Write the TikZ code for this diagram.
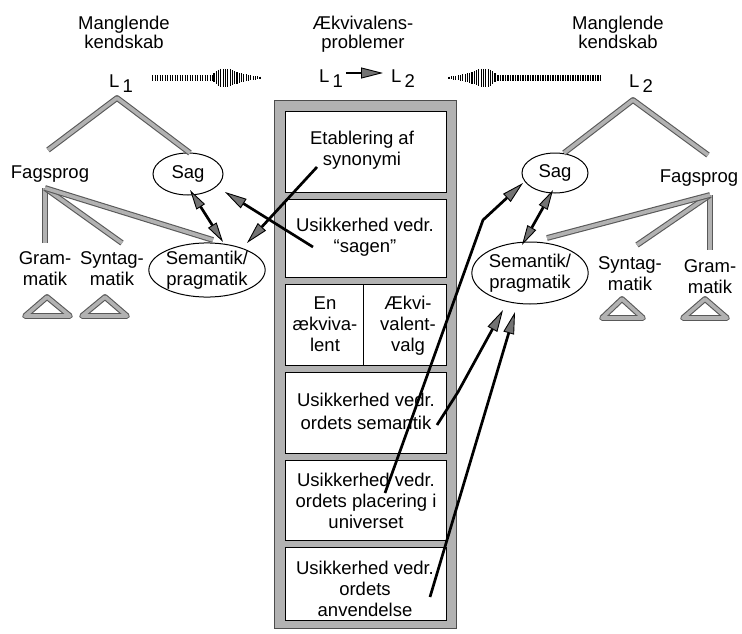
\documentclass[tikz,border=0pt]{standalone}
\usepackage{fontspec}
\setmainfont{Liberation Sans}
\usetikzlibrary{arrows.meta,shapes.geometric}
\newcommand{\mylsub}[1]{L\hspace{3pt}\raisebox{-5pt}{#1}}
\begin{document}
\begin{tikzpicture}[x=1pt,y=-1pt,
  every node/.style={inner sep=0pt, align=center, font=\fontsize{18.5}{21}\selectfont},
  toplbl/.style={font=\fontsize{18.5}{19}\selectfont},
  ell/.style={ellipse, draw, line width=1pt},
  hatch/.style={draw=black!65, double=gray!60, double distance=3.6pt, line width=1.1pt, line join=round},
  arr/.style={line width=2.7pt, -{Triangle[length=22pt,width=11pt,fill=black!55,line width=0.9pt]}},
  darr/.style={line width=2.7pt, {Triangle[length=20pt,width=10pt,fill=black!55,line width=0.9pt]}-{Triangle[length=20pt,width=10pt,fill=black!55,line width=0.9pt]}},
  dense/.style={line width=6pt, dash pattern=on 1.2pt off 1.3pt},
  tick/.style={line width=1.1pt}
]
\useasboundingbox (0,0) rectangle (742,634);

% ---- central column ----
\path[fill=gray!60, draw=black!70, line width=0.6pt] (274,100) rectangle (456,628);
\foreach \a/\b in {111/192, 199/277, 284/365, 372/453, 460/540, 547/620}
  \draw[fill=white, line width=0.8pt] (285,\a) rectangle (446,\b);
\draw[line width=0.8pt] (363,284) -- (363,365);

\node (c1) at (362,150.7) {Etablering af\\synonymi};
\node (c2) at (365,237.7) {Usikkerhed vedr.\\“sagen”};
\node (c3a) at (325,324.3) {En\\ækviva-\\lent};
\node (c3b) at (408,326.2) {Ækvi-\\valent-\\valg};
\node (c4) at (366,411) {Usikkerhed vedr.\\[2pt]ordets semantik};
\node (c5) at (366,501.3) {Usikkerhed vedr.\\ordets placering i\\universet};
\node (c6) at (365,589.3) {Usikkerhed vedr.\\ordets\\anvendelse};

% ---- top labels ----
\node[toplbl] (manL) at (124,32.8) {Manglende\\kendskab};
\node[toplbl] (ekv) at (363,34.7) {Ækvivalens-\\problemer};
\node[toplbl] (manR) at (618,32.8) {Manglende\\kendskab};

\node[anchor=base] (L1) at (121,88) {\mylsub{1}};
\node[anchor=base] (mL1) at (331,83) {\mylsub{1}};
\node[anchor=base] (mL2) at (403,83) {\mylsub{2}};
\node[anchor=base] (L2) at (641,88) {\mylsub{2}};

\coordinate (mid) at (0,73);
\draw[arr, shorten <=3pt, shorten >=8pt] (mL1.east |- mid) -- (mL2.west |- mid);

% dotted arrows
\coordinate (dLa) at (152,78);
\coordinate (dLb) at (214,78);
\draw[dense] (dLa) -- (dLb);
\foreach \x/\h in {214/9, 216.3/13, 218.6/16, 220.9/18, 223.2/18, 225.5/18, 227.8/18, 230.1/17, 232.4/15, 234.7/13, 237/11.5, 239.3/10, 241.6/9, 243.9/8, 246.2/7, 248.5/6, 250.8/5, 253.1/4, 255.4/3.5, 257.7/3, 260/2.5}
  \draw[tick] (\x,{78-\h/2}) -- (\x,{78+\h/2});
\coordinate (dRa) at (601,78);
\coordinate (dRb) at (495,78);
\draw[dense] (dRa) -- (dRb);
\foreach \x/\h in {214/9, 216.3/13, 218.6/16, 220.9/18, 223.2/18, 225.5/18, 227.8/18, 230.1/17, 232.4/15, 234.7/13, 237/11.5, 239.3/10, 241.6/9, 243.9/8, 246.2/7, 248.5/6, 250.8/5, 253.1/4, 255.4/3.5, 257.7/3, 260/2.5}
  \draw[tick] ({709-\x},{78-\h/2}) -- ({709-\x},{78+\h/2});

% ---- left side ----
\node[ell, minimum width=70pt, minimum height=42pt] (sagL) at (188,174) {Sag};
\node[ell, minimum width=110pt, minimum height=48pt] (semL) at (207,270) {Semantik/\\pragmatik};
\node[anchor=base] (fagL) at (50,178) {Fagsprog};
\node (gramL) at (45,268.8) {Gram-\\matik};
\node (syntL) at (112,268.8) {Syntag-\\matik};

\coordinate (apL) at (117,98);
\coordinate (apLl) at (48,150);
\coordinate (sagLt) at (190,153);
\draw[hatch] (apLl) -- (apL) -- (sagLt);
\coordinate (fL) at (45,188);
\coordinate (fLg) at (45,243);
\coordinate (fLs) at (122,243);
\coordinate (fLm) at (213,240);
\draw[hatch] (fL) -- (fLg);
\draw[hatch] (fL) -- (fLs);
\draw[hatch] (fL) -- (fLm);
\draw[hatch] (25,316) -- (47,297) -- (70,316) -- cycle;
\draw[hatch] (82,316) -- (105,297) -- (127,316) -- cycle;

% ---- right side ----
\node[ell, minimum width=66pt, minimum height=40pt] (sagR) at (555,173) {Sag};
\node[ell, minimum width=110pt, minimum height=62pt] (semR) at (530,273) {Semantik/\\pragmatik};
\node[anchor=base] (fagR) at (699,182) {Fagsprog};
\node (syntR) at (630,273.8) {Syntag-\\matik};
\node (gramR) at (710,276.8) {Gram-\\matik};

\coordinate (apR) at (633,100);
\coordinate (sagRt) at (564,153);
\coordinate (apRr) at (708,155);
\draw[hatch] (sagRt) -- (apR) -- (apRr);
\coordinate (fR) at (710,195);
\coordinate (fRg) at (710,250);
\coordinate (fRs) at (637,245);
\coordinate (fRm) at (547,238);
\draw[hatch] (fR) -- (fRg);
\draw[hatch] (fR) -- (fRs);
\draw[hatch] (fR) -- (fRm);
\draw[hatch] (602,318) -- (622,299) -- (643,318) -- cycle;
\draw[hatch] (683,318) -- (705,299) -- (727,318) -- cycle;

% ---- arrows ----
\coordinate (dL1) at (190,190);
\coordinate (dL2) at (223,242);
\draw[darr] (dL1) -- (dL2);
\coordinate (dR1) at (553,190);
\coordinate (dR2) at (522,245);
\draw[darr] (dR1) -- (dR2);

\coordinate (s1) at (317,167);
\coordinate (t1) at (247,243);
\draw[arr] (s1) -- (t1);
\coordinate (s2) at (313,247);
\coordinate (t2) at (225,192);
\draw[arr] (s2) -- (t2);

\coordinate (s5) at (385,493);
\coordinate (k5) at (483,220);
\coordinate (t5) at (523,183);
\draw[arr, line join=round] (s5) -- (k5) -- (t5);
\coordinate (s4) at (437,425);
\coordinate (k4) at (458,392);
\coordinate (t4) at (503,310);
\draw[arr, line join=round] (s4) -- (k4) -- (t4);
\coordinate (s6) at (430,597);
\coordinate (t6) at (515,312);
\draw[arr] (s6) -- (t6);
\end{tikzpicture}
\end{document}
